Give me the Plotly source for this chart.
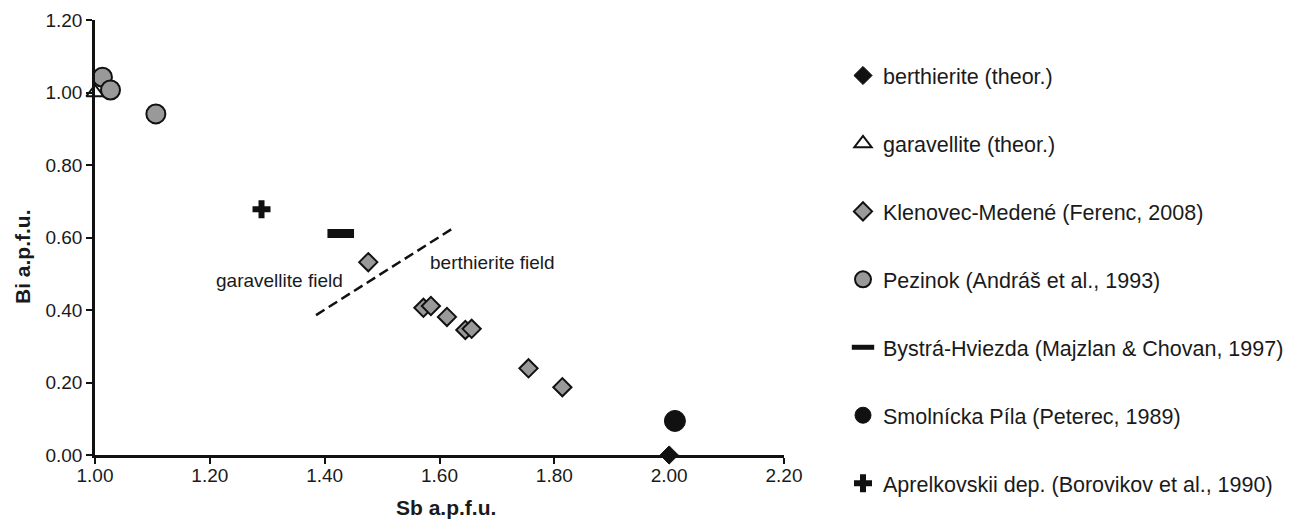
import plotly.graph_objects as go

# ---- data (Sb a.p.f.u., Bi a.p.f.u.) ----
berthierite_sb = [2.00]
berthierite_bi = [0.00]

garavellite_sb = [1.00]
garavellite_bi = [1.00]

klenovec_sb = [1.476, 1.572, 1.585, 1.613, 1.645, 1.656, 1.755, 1.814]
klenovec_bi = [0.532, 0.406, 0.411, 0.381, 0.345, 0.348, 0.239, 0.187]

pezinok_sb = [1.013, 1.027, 1.106]
pezinok_bi = [1.042, 1.007, 0.941]

bystra_sb = [1.428]
bystra_bi = [0.611]

smolnicka_sb = [2.010]
smolnicka_bi = [0.094]

aprelkovskii_sb = [1.290]
aprelkovskii_bi = [0.678]

boundary_sb = [1.385, 1.623]
boundary_bi = [0.386, 0.625]

x_ticks = [1.0, 1.2, 1.4, 1.6, 1.8, 2.0, 2.2]
y_ticks = [0.0, 0.2, 0.4, 0.6, 0.8, 1.0, 1.2]

GRAY = "#999999"
BLACK = "#111111"
FONT = "Liberation Sans, Arial, sans-serif"

# page body has an 8px margin; figure is placed at (8, 8)
W, H = 1288, 513
ML, MR, MT, MB = 87, 512, 12, 66

fig = go.Figure()

fig.add_trace(go.Scatter(
    x=boundary_sb, y=boundary_bi, mode="lines", showlegend=False,
    line=dict(color=BLACK, width=2.5, dash="10px,5px"), hoverinfo="skip"))

def add(name, xs, ys, symbol, size, color, lcolor, lwidth, group):
    fig.add_trace(go.Scatter(
        x=xs, y=ys, mode="markers", name=name, legendgroup=group,
        cliponaxis=False,
        marker=dict(symbol=symbol, size=size, color=color,
                    line=dict(color=lcolor, width=lwidth))))

add("berthierite (theor.)", berthierite_sb, berthierite_bi, "diamond", 14, BLACK, BLACK, 1, "g1")
add("garavellite (theor.)", garavellite_sb, garavellite_bi, "triangle-up", 15, "white", BLACK, 2, "g2")
add("Klenovec-Medené (Ferenc, 2008)", klenovec_sb, klenovec_bi, "diamond", 14, GRAY, BLACK, 2, "g3")
add("Pezinok (Andráš et al., 1993)", pezinok_sb, pezinok_bi, "circle", 19, GRAY, BLACK, 2, "g4")
add("Bystrá-Hviezda (Majzlan & Chovan, 1997)", bystra_sb, bystra_bi, "line-ew", 19, BLACK, BLACK, 9, "g5")
add("Smolnícka Píla (Peterec, 1989)", smolnicka_sb, smolnicka_bi, "circle", 21, BLACK, BLACK, 1, "g6")
add("Aprelkovskii dep. (Borovikov et al., 1990)", aprelkovskii_sb, aprelkovskii_bi, "cross", 15, BLACK, BLACK, 0, "g7")

axis_common = dict(
    showgrid=False, zeroline=False, showline=True, linecolor=BLACK, linewidth=2.5,
    ticks="outside", ticklen=6, tickwidth=2, tickcolor=BLACK,
    tickfont=dict(family=FONT, size=19, color="#1a1a1a"), tickformat=".2f",
)

pw = W - ML - MR
ph = H - MT - MB

def px_x(px):  # screenshot pixel -> paper x
    return (px - 8 - ML) / pw

def px_y(py):  # screenshot pixel -> paper y
    return (H - MB - (py - 8)) / ph

fig.update_layout(
    width=W, height=H,
    margin=dict(l=ML, r=MR, t=MT, b=MB, autoexpand=False),
    paper_bgcolor="white", plot_bgcolor="white",
    font=dict(family=FONT, color="#1a1a1a"),
    xaxis=dict(range=[1.0, 2.2], tickvals=x_ticks, ticklabelstandoff=-5, **axis_common),
    yaxis=dict(range=[0.0, 1.2], tickvals=y_ticks, **axis_common),
    legend=dict(x=px_x(843), xanchor="left", y=px_y(55), yanchor="top",
                font=dict(family=FONT, size=21.5, color="#1a1a1a"),
                tracegroupgap=37, bgcolor="rgba(0,0,0,0)", maxheight=700),
    showlegend=True,
    annotations=[
        dict(x=1.321, y=0.482, xref="x", yref="y", text="garavellite field",
             showarrow=False, font=dict(family=FONT, size=19, color="#1a1a1a")),
        dict(x=1.692, y=0.532, xref="x", yref="y", text="berthierite field",
             showarrow=False, font=dict(family=FONT, size=19, color="#1a1a1a")),
        dict(x=px_x(446), y=px_y(507), xref="paper", yref="paper",
             text="<b>Sb a.p.f.u.</b>", xanchor="center", yanchor="middle",
             showarrow=False, font=dict(family=FONT, size=21, color="#1a1a1a")),
        dict(x=px_x(22), y=px_y(257), xref="paper", yref="paper",
             text="<b>Bi a.p.f.u.</b>", xanchor="center", yanchor="middle",
             textangle=-90, showarrow=False,
             font=dict(family=FONT, size=21, color="#1a1a1a")),
    ],
)

fig.write_html("out.html")
